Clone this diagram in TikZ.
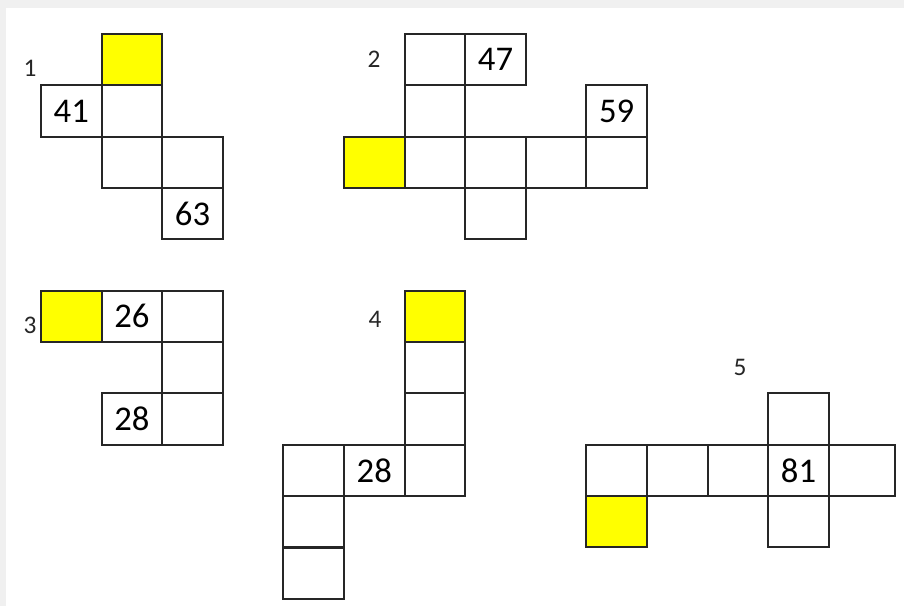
\documentclass[tikz,border=0pt]{standalone}
\usepackage{fontspec}
\setmainfont{Carlito}
\definecolor{cyellow}{HTML}{FFFF00}
\definecolor{cframe}{HTML}{262626}
\definecolor{cbg}{HTML}{F0F0F0}
\tikzset{
  every picture/.style={x=0.75pt, y=-0.75pt},
  cell/.style={draw=cframe, fill=#1, line width=1.5pt, anchor=north west, inner sep=0pt,
    minimum width=45.45pt, minimum height=38.5pt, font=\fontsize{26}{30}\selectfont},
  cell/.default=white,
  label/.style={font=\fontsize{19}{23}\selectfont, text=cframe, inner sep=0pt},
}

\begin{document}
\begin{tikzpicture}
  \useasboundingbox (0,0) rectangle (904,606);
  \fill[cbg] (0,0) rectangle (904,606);
  \fill[white] (6,8) rectangle (904,606);
  % column / row / number / fill
  \foreach \c/\r/\t/\f [count=\i] in {1/0/{}/cyellow, 0/1/41/white, 1/1/{}/white, 1/2/{}/white,
      2/2/{}/white, 2/3/63/white}
    \node[cell=\f] (a\i) at ({40+60.6*\c},{33+51.35*\r}) {\t};
  \foreach \c/\r/\t/\f [count=\i] in {6/0/{}/white, 7/0/47/white, 6/1/{}/white, 9/1/59/white,
      5/2/{}/cyellow, 6/2/{}/white, 7/2/{}/white, 8/2/{}/white, 9/2/{}/white, 7/3/{}/white}
    \node[cell=\f] (b\i) at ({40+60.6*\c},{33+51.35*\r}) {\t};
  \foreach \c/\r/\t/\f [count=\i] in {0/5/{}/cyellow, 1/5/26/white, 2/5/{}/white, 2/6/{}/white,
      1/7/28/white, 2/7/{}/white}
    \node[cell=\f] (c\i) at ({40+60.6*\c},{33+51.35*\r}) {\t};
  \foreach \c/\r/\t/\f [count=\i] in {6/5/{}/cyellow, 6/6/{}/white, 6/7/{}/white, 6/8/{}/white,
      5/8/28/white, 4/8/{}/white, 4/9/{}/white, 4/10/{}/white}
    \node[cell=\f] (d\i) at ({40+60.6*\c},{33+51.35*\r}) {\t};
  \foreach \c/\r/\t/\f [count=\i] in {12/7/{}/white, 9/8/{}/white, 10/8/{}/white, 11/8/{}/white,
      12/8/81/white, 9/9/{}/cyellow, 12/9/{}/white}
    \node[cell=\f] (e\i) at ({40+60.6*\c},{33+51.35*\r}) {\t};
  \node[cell, minimum width=49.5pt] (e8) at ({40+60.6*13},{33+51.35*8}) {};
  % figure numbers
  \node[label] (l1) at (30,68) {1};
  \node[label] (l2) at (374,59) {2};
  \node[label] (l3) at (30,325) {3};
  \node[label] (l4) at (375,319) {4};
  \node[label] (l5) at (740,367) {5};
\end{tikzpicture}
\end{document}
